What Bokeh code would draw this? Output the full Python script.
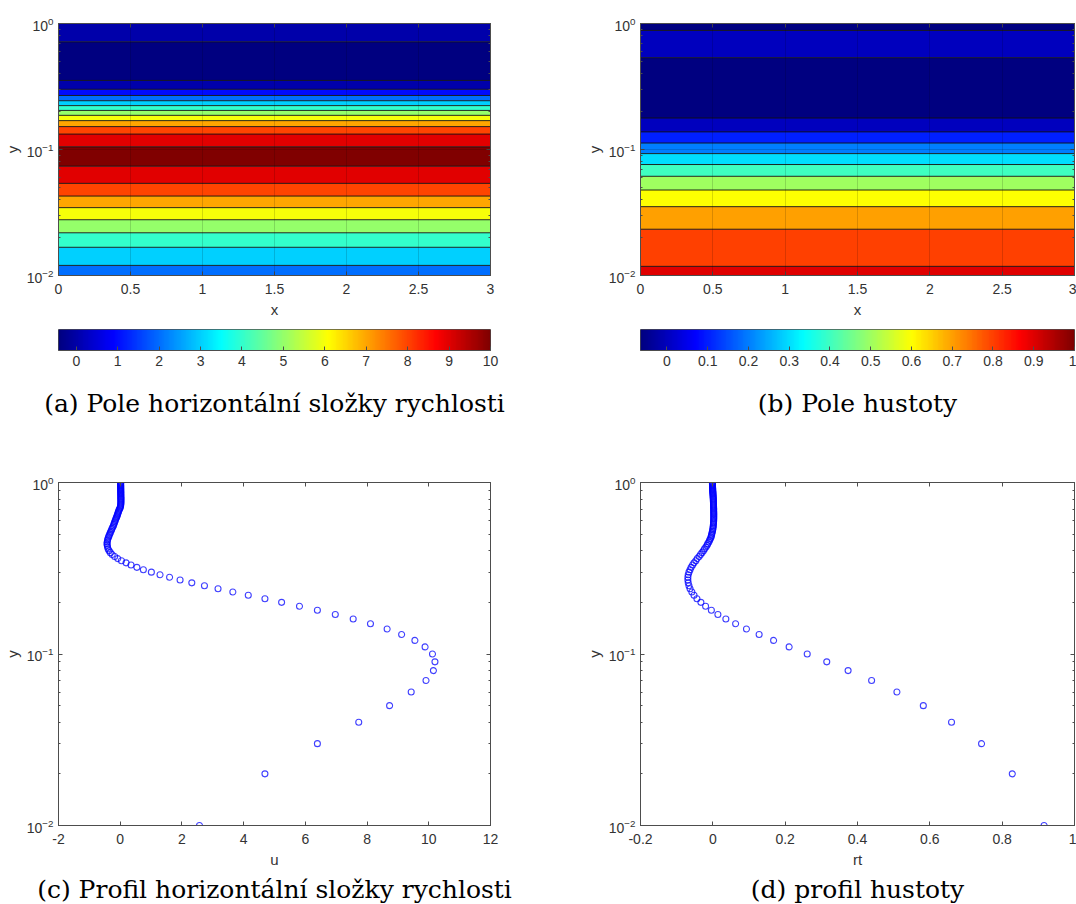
import numpy as np
from bokeh.plotting import figure
from bokeh.layouts import column, row
from bokeh.models import (LinearAxis, LogAxis, FixedTicker, LinearColorMapper,
                          LogTickFormatter, Range1d, Title)
from bokeh.embed import file_html
from bokeh.resources import INLINE

# ---------------- data ----------------
# sampling heights of the profile (grid 0.01 .. 1.00)
y_vals = [k / 100 for k in range(1, 101)]

# horizontal velocity u(y)
u_vals = [
    2.57, 4.69, 6.39, 7.73, 8.73, 9.43, 9.91, 10.15, 10.20, 10.12,
    9.88, 9.55, 9.12, 8.65, 8.11, 7.55, 6.97, 6.39, 5.81, 5.23,
    4.69, 4.15, 3.65, 3.17, 2.73, 2.32, 1.94, 1.60, 1.29, 1.01,
    0.75, 0.54, 0.35, 0.19, 0.04, -0.08, -0.18, -0.26, -0.32, -0.36,
    -0.39, -0.41, -0.42, -0.43, -0.42, -0.41, -0.40, -0.38, -0.36, -0.34,
    -0.32, -0.30, -0.28, -0.26, -0.24, -0.22, -0.205, -0.19, -0.175, -0.16,
    -0.145, -0.13, -0.115, -0.10, -0.088, -0.076, -0.064, -0.052, -0.04, -0.02,
    -0.006, 0.006, 0.012, 0.016, 0.019, 0.021, 0.022, 0.022, 0.022, 0.022,
    0.022, 0.021, 0.021, 0.020, 0.020, 0.019, 0.019, 0.018, 0.018, 0.017,
    0.017, 0.017, 0.016, 0.016, 0.016, 0.015, 0.015, 0.015, 0.015, 0.015,
]

# density rt(y)
rt_vals = [
    0.916, 0.828, 0.743, 0.660, 0.582, 0.509, 0.439, 0.374, 0.315, 0.261,
    0.211, 0.168, 0.128, 0.093, 0.063, 0.036, 0.014, -0.004, -0.020, -0.033,
    -0.044, -0.052, -0.058, -0.063, -0.066, -0.068, -0.069, -0.069, -0.068, -0.066,
    -0.063, -0.060, -0.056, -0.052, -0.047, -0.043, -0.038, -0.034, -0.030, -0.026,
    -0.023, -0.019, -0.016, -0.014, -0.011, -0.009, -0.007, -0.005, -0.004, -0.003,
    -0.002, -0.001, -0.0004, 0.0004, 0.0009, 0.0013, 0.0016, 0.0019, 0.0021, 0.0023,
    0.0024, 0.0025, 0.0025, 0.0025, 0.0025, 0.0025, 0.0024, 0.0024, 0.0023, 0.0023,
    0.0022, 0.0021, 0.0020, 0.0019, 0.0018, 0.0017, 0.0016, 0.0015, 0.0014, 0.0013,
    0.0012, 0.0010, 0.0009, 0.0007, 0.0006, 0.0004, 0.0002, 0.00002, -0.0002, -0.0003,
    -0.0004, -0.0005, -0.0006, -0.0007, -0.0008, -0.0009, -0.0010, -0.0010, -0.0011, -0.0012,
]

x_domain = [0.0, 3.0]

u_levels = [0, 1, 2, 3, 4, 5, 6, 7, 8, 9, 10]
rt_levels = [0, 0.1, 0.2, 0.3, 0.4, 0.5, 0.6, 0.7, 0.8, 0.9]
u_clim = [-0.43, 10.0]
rt_clim = [-0.065, 1.0]

x_field_ticks = [0, 0.5, 1, 1.5, 2, 2.5, 3]
x_field_labels = ["0", "0.5", "1", "1.5", "2", "2.5", "3"]
u_ticks = [-2, 0, 2, 4, 6, 8, 10, 12]
u_tick_labels = ["-2", "0", "2", "4", "6", "8", "10", "12"]
rt_ticks = [-0.2, 0, 0.2, 0.4, 0.6, 0.8, 1]
rt_tick_labels = ["-0.2", "0", "0.2", "0.4", "0.6", "0.8", "1"]
ucb_ticks = [0, 1, 2, 3, 4, 5, 6, 7, 8, 9, 10]
ucb_labels = ["0", "1", "2", "3", "4", "5", "6", "7", "8", "9", "10"]
rtcb_ticks = [0, 0.1, 0.2, 0.3, 0.4, 0.5, 0.6, 0.7, 0.8, 0.9, 1]
rtcb_labels = ["0", "0.1", "0.2", "0.3", "0.4", "0.5", "0.6", "0.7", "0.8", "0.9", "1"]
y_major = [0.01, 0.1, 1]
y_minor = [0.02, 0.03, 0.04, 0.05, 0.06, 0.07, 0.08, 0.09,
           0.2, 0.3, 0.4, 0.5, 0.6, 0.7, 0.8, 0.9]

captions = ["(a) Pole horizontální složky rychlosti", "(b) Pole hustoty",
            "(c) Profil horizontální složky rychlosti", "(d) profil hustoty"]

# ---------------- style ----------------
SANS = "Liberation Sans"
SERIF = "DejaVu Serif"
AX_COL = "#4d4d4d"
TXT_COL = "#333333"
FRAME_W = 434
TICK_FS = "14px"


def jet_hex(v, lo, hi):
    f = (v - lo) / (hi - lo)
    f = min(max(f, 0.0), 1.0)
    r = min(max(1.5 - abs(4 * f - 3), 0.0), 1.0)
    g = min(max(1.5 - abs(4 * f - 2), 0.0), 1.0)
    b = min(max(1.5 - abs(4 * f - 1), 0.0), 1.0)
    return "#%02x%02x%02x" % (int(round(r * 255)), int(round(g * 255)), int(round(b * 255)))


def style_axis(ax, ticks=None, labels=None, standoff=8):
    if ticks is not None:
        ax.ticker = FixedTicker(ticks=ticks)
    if labels is not None:
        ax.major_label_overrides = {t: l for t, l in zip(ticks, labels)}
    ax.axis_line_color = AX_COL
    ax.axis_line_width = 1
    ax.major_tick_line_color = AX_COL
    ax.minor_tick_line_color = AX_COL
    ax.major_tick_in = 4
    ax.major_tick_out = 0
    ax.minor_tick_in = 2
    ax.minor_tick_out = 0
    ax.major_label_text_font = SANS
    ax.major_label_text_font_size = TICK_FS
    ax.major_label_text_color = TXT_COL
    ax.major_label_standoff = standoff
    ax.axis_label_text_font = SANS
    ax.axis_label_text_font_size = "15px"
    ax.axis_label_text_font_style = "normal"
    ax.axis_label_text_color = TXT_COL
    ax.axis_label_standoff = 4


def blank_axis(ax, ticks, minor=None):
    ax.ticker = FixedTicker(ticks=ticks, minor_ticks=minor or [])
    ax.major_label_overrides = {t: "" for t in ticks}
    ax.axis_line_color = AX_COL
    ax.major_tick_line_color = AX_COL
    ax.minor_tick_line_color = AX_COL
    ax.major_tick_in = 4
    ax.major_tick_out = 0
    ax.minor_tick_in = 2
    ax.minor_tick_out = 0
    ax.major_label_standoff = 0


def log_y(p):
    ax = p.yaxis[0]
    style_axis(ax, standoff=5)
    ax.ticker = FixedTicker(ticks=y_major, minor_ticks=y_minor)
    ax.formatter = LogTickFormatter()
    ax.axis_label = "y"
    ax.axis_label_standoff = 3
    r = LogAxis()
    blank_axis(r, y_major, y_minor)
    p.add_layout(r, "right")


def top_axis(p, ticks):
    t = LinearAxis()
    blank_axis(t, ticks)
    p.add_layout(t, "above")


def field_panel(vals, levels, clim, left, right, width):
    p = figure(width=width, height=320, x_range=Range1d(0, 3), y_range=Range1d(0.01, 1),
               y_axis_type="log", output_backend="svg", toolbar_location=None,
               min_border_left=left, min_border_right=right,
               min_border_top=23, min_border_bottom=45)
    z = np.tile(np.array(vals)[:, None], (1, len(x_domain)))
    full = [min(vals) - 1] + list(levels) + [max(vals) + 1]
    fills = [jet_hex(clim[0], *clim)] + [jet_hex(l, *clim) for l in levels]
    p.contour(x=x_domain, y=y_vals, z=z, levels=full, fill_color=fills,
              line_color="#111111", line_width=0.9)
    style_axis(p.xaxis[0], x_field_ticks, x_field_labels)
    p.xaxis[0].axis_label = "x"
    log_y(p)
    top_axis(p, x_field_ticks)
    for g in p.grid:
        g.grid_line_color = "black"
        g.grid_line_alpha = 0.15
        g.level = "overlay"
    p.xgrid.ticker = FixedTicker(ticks=x_field_ticks)
    p.ygrid.ticker = FixedTicker(ticks=y_major)
    p.outline_line_color = AX_COL
    return p


def cbar_panel(clim, ticks, labels, left, right, width):
    p = figure(width=width, height=55, x_range=Range1d(*clim), y_range=Range1d(0, 1),
               output_backend="svg", toolbar_location=None, y_axis_location=None,
               min_border_left=left, min_border_right=right,
               min_border_top=9, min_border_bottom=25)
    pal = [jet_hex(clim[0] + (clim[1] - clim[0]) * i / 255, *clim) for i in range(256)]
    mapper = LinearColorMapper(palette=pal, low=clim[0], high=clim[1])
    grad = np.array([np.linspace(clim[0], clim[1], 256)])
    p.image(image=[grad], x=clim[0], y=0, dw=clim[1] - clim[0], dh=1, color_mapper=mapper)
    style_axis(p.xaxis[0], ticks, labels, standoff=5)
    p.grid.visible = False
    p.outline_line_color = AX_COL
    return p


def caption_panel(text, height, standoff, left, right, width):
    # tiny frame at the top; caption as a Title in the (unclipped) panel below it
    p = figure(width=width, height=height, x_range=Range1d(0, 1), y_range=Range1d(0, 1),
               output_backend="svg", toolbar_location=None,
               x_axis_location=None, y_axis_location=None,
               min_border_left=left, min_border_right=right,
               min_border_top=0, min_border_bottom=height - 2)
    p.add_layout(Title(text=text, align="center", text_font=SERIF,
                       text_font_size="25px", text_font_style="normal",
                       text_color="black", standoff=standoff), "below")
    p.outline_line_color = None
    p.xgrid.visible = False
    p.ygrid.visible = False
    return p


def profile_panel(xv, xr, ticks, labels, xlabel, left, right, width):
    p = figure(width=width, height=430, x_range=Range1d(*xr), y_range=Range1d(0.01, 1),
               y_axis_type="log", output_backend="svg", toolbar_location=None,
               min_border_left=left, min_border_right=right,
               min_border_top=42, min_border_bottom=44)
    p.scatter(x=xv, y=y_vals, marker="circle", size=6, fill_color=None,
              line_color="#0000ff", line_alpha=0.75, line_width=1.1)
    style_axis(p.xaxis[0], ticks, labels)
    p.xaxis[0].axis_label = xlabel
    log_y(p)
    top_axis(p, ticks)
    p.xgrid.visible = False
    p.ygrid.visible = False
    p.outline_line_color = AX_COL
    return p


WL, WR = 540, 536
LA, RA = 56, WL - 56 - FRAME_W
LB, RB = 100, WR - 100 - FRAME_W

fa = field_panel(u_vals, u_levels, u_clim, LA, RA, WL)
fb = field_panel(rt_vals, rt_levels, rt_clim, LB, RB, WR)
ca = cbar_panel(u_clim, ucb_ticks, ucb_labels, LA, RA, WL)
cb = cbar_panel(rt_clim, rtcb_ticks, rtcb_labels, LB, RB, WR)
ta = caption_panel(captions[0], 65, 19, LA, RA, WL)
tb = caption_panel(captions[1], 65, 19, LB, RB, WR)

pc = profile_panel(u_vals, (-2, 12), u_ticks, u_tick_labels, "u", LA, RA, WL)
pd = profile_panel(rt_vals, (-0.2, 1), rt_ticks, rt_tick_labels, "rt", LB, RB, WR)
tc = caption_panel(captions[2], 34, 0, LA, RA, WL)
td = caption_panel(captions[3], 34, 0, LB, RB, WR)

layout = column(
    row(column(fa, ca, ta), column(fb, cb, tb)),
    row(column(pc, tc), column(pd, td)),
)

open("out.html", "w").write(file_html(layout, INLINE))
